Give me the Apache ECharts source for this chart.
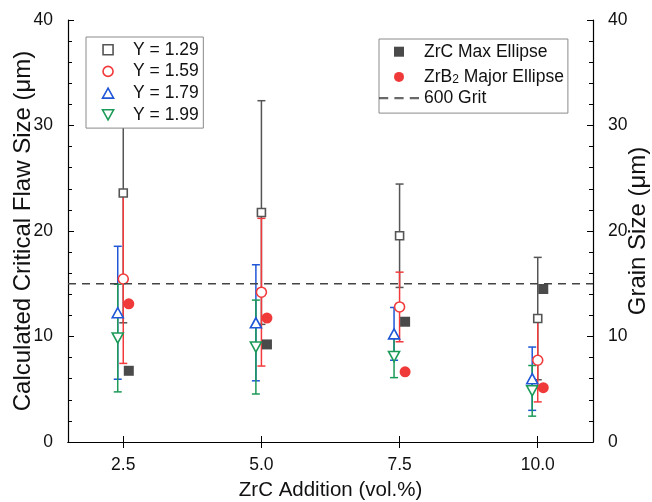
<!DOCTYPE html>
<html>
<head>
<meta charset="utf-8">
<script src="https://cdn.jsdelivr.net/npm/echarts@6/dist/echarts.min.js"></script>
<style>html,body{margin:0;padding:0;background:#fff;}#c{width:652px;height:502px;}</style>
</head>
<body>
<div id="c"></div>
<script>
// ---- data ----
var zrcAddition = [2.5, 5.0, 7.5, 10.0];
var xTickLabels = ['2.5', '5.0', '7.5', '10.0'];
var y129 = [23.6, 21.75, 19.55, 11.7];
var e129 = [12.3, 10.6, 4.9, 5.8];
var y159 = [15.45, 14.2, 12.8, 7.75];
var e159 = [8.0, 7.0, 3.3, 3.95];
var y179 = [12.25, 11.3, 10.25, 6.0];
var e179 = [6.3, 5.5, 2.5, 3.0];
var y199 = [9.85, 9.0, 8.1, 4.85];
var e199 = [5.1, 4.45, 2.0, 2.4];
var zrcMaxEllipse = [6.75, 9.25, 11.4, 14.5];
var zrb2MajorEllipse = [13.1, 11.75, 6.65, 5.15];
var grit600 = 15;
var yTicks = [0, 10, 20, 30, 40];

var FONT = '"Liberation Sans", Arial, sans-serif';
var GRAY = '#555555', RED = '#f23a3c', BLUE = '#1f57d6', GREEN = '#1c9a58';
var SHIFT_L = -0.1, SHIFT_R = 0.1;
var SQUARE = 'path://M0,0L10,0L10,10L0,10Z';
var TRI_UP = 'path://M5,0L10,9L0,9Z';
var TRI_DOWN = 'path://M0,0L10,0L5,9Z';
var DASH_ICON = 'path://M0,0h9v2h-9Z M15,0h9v2h-9Z M30,0h9v2h-9Z';

function pts(vals, shift) { return vals.map(function (v, i) { return [zrcAddition[i] + shift, v]; }); }
function bars(vals, errs, shift) { return vals.map(function (v, i) { return [zrcAddition[i] + shift, v - errs[i], v + errs[i]]; }); }

function errSeries(name, data, color) {
  return {
    name: name, type: 'custom', xAxisIndex: 0, yAxisIndex: 0, data: data, silent: true,
    encode: { x: 0, y: [1, 2] },
    renderItem: function (params, api) {
      var lo = api.coord([api.value(0), api.value(1)]);
      var hi = api.coord([api.value(0), api.value(2)]);
      var w = 4;
      var st = { stroke: color, lineWidth: 1.5 };
      return { type: 'group', children: [
        { type: 'line', shape: { x1: lo[0], y1: lo[1], x2: hi[0], y2: hi[1] }, style: st },
        { type: 'line', shape: { x1: lo[0] - w, y1: lo[1], x2: lo[0] + w, y2: lo[1] }, style: st },
        { type: 'line', shape: { x1: hi[0] - w, y1: hi[1], x2: hi[0] + w, y2: hi[1] }, style: st }
      ] };
    }
  };
}
function openScatter(name, data, symbol, size, color) {
  return { name: name, type: 'scatter', data: data, symbol: symbol, symbolSize: size,
    itemStyle: { color: '#ffffff', borderColor: color, borderWidth: 1.6, opacity: 1 } };
}
function openIcon(name, icon, color) {
  return { name: name, icon: icon, itemStyle: { color: '#ffffff', borderColor: color, borderWidth: 1.6 } };
}

var chart = echarts.init(document.getElementById('c'), null, { renderer: 'canvas' });
var axisLineStyle = { color: '#000', width: 1.2 };
var option = {
  backgroundColor: '#fff',
  animation: false,
  textStyle: { fontFamily: FONT },
  grid: { left: 68, right: 59, top: 20, bottom: 60, containLabel: false, outerBoundsMode: 'none' },
  xAxis: [{
    type: 'value', min: 1.5, max: 11, position: 'bottom',
    name: 'ZrC Addition (vol.%)', nameLocation: 'middle', nameGap: 38, nameMoveOverlap: false,
    nameTextStyle: { fontSize: 20.5, color: '#111', fontFamily: FONT },
    axisLine: { lineStyle: axisLineStyle },
    axisTick: { inside: true, length: 6, lineStyle: { color: '#000' }, customValues: zrcAddition },
    axisLabel: { fontSize: 17.5, color: '#111', margin: 14, fontFamily: FONT, customValues: zrcAddition,
      formatter: function (v) { var i = zrcAddition.indexOf(v); return i >= 0 ? xTickLabels[i] : ''; } },
    splitLine: { show: false }
  }, {
    type: 'value', min: 1.5, max: 11, position: 'top',
    axisLine: { lineStyle: axisLineStyle },
    axisTick: { inside: true, length: 6, lineStyle: { color: '#000' }, customValues: zrcAddition },
    axisLabel: { show: false },
    splitLine: { show: false }
  }],
  yAxis: [{
    type: 'value', min: yTicks[0], max: yTicks[yTicks.length - 1], interval: 10, position: 'left',
    name: 'Calculated Critical Flaw Size (μm)', nameLocation: 'middle', nameGap: 33, nameRotate: 90, nameMoveOverlap: false,
    nameTextStyle: { fontSize: 24, color: '#111', fontFamily: FONT },
    axisLine: { show: true, lineStyle: axisLineStyle },
    axisTick: { inside: true, length: 6, lineStyle: { color: '#000' } },
    minorTick: { show: true, splitNumber: 5, length: 4, lineStyle: { color: '#000' } },
    axisLabel: { fontSize: 17.5, color: '#111', margin: 15, fontFamily: FONT },
    splitLine: { show: false }
  }, {
    type: 'value', min: yTicks[0], max: yTicks[yTicks.length - 1], interval: 10, position: 'right',
    name: 'Grain Size (μm)', nameLocation: 'middle', nameGap: 33, nameRotate: 90, nameMoveOverlap: false,
    nameTextStyle: { fontSize: 24, color: '#111', fontFamily: FONT },
    axisLine: { show: true, lineStyle: axisLineStyle },
    axisTick: { inside: true, length: 6, lineStyle: { color: '#000' } },
    minorTick: { show: true, splitNumber: 5, length: 4, lineStyle: { color: '#000' } },
    axisLabel: { fontSize: 17.5, color: '#111', margin: 15, fontFamily: FONT },
    splitLine: { show: false }
  }],
  legend: [{
    data: [openIcon('Y = 1.29', SQUARE, GRAY), openIcon('Y = 1.59', 'circle', RED),
           openIcon('Y = 1.79', TRI_UP, BLUE), openIcon('Y = 1.99', TRI_DOWN, GREEN)],
    orient: 'vertical', left: 86, top: 37,
    itemWidth: 40, itemHeight: 10, itemGap: 3.7,
    padding: [3.7, 4.6, 4.3, 15.7],
    backgroundColor: '#fff', borderColor: '#8a8a8a', borderWidth: 1, borderRadius: 0,
    textStyle: { fontSize: 17.5, color: '#111', lineHeight: 18, fontFamily: FONT },
    selectedMode: false
  }, {
    data: [{ name: 'ZrC Max Ellipse', icon: SQUARE }, { name: 'ZrB2 Major Ellipse', icon: 'circle' },
           { name: '600 Grit', icon: DASH_ICON }],
    orient: 'vertical', left: 379, top: 39,
    itemWidth: 40, itemHeight: 10, itemGap: 3.2,
    padding: [3.7, 4, 6, 0],
    backgroundColor: '#fff', borderColor: '#8a8a8a', borderWidth: 1, borderRadius: 0,
    textStyle: { fontSize: 17.5, color: '#111', lineHeight: 18, fontFamily: FONT,
      rich: {
        n: { fontSize: 17.5, lineHeight: 18, color: '#111', fontFamily: FONT },
        s: { fontSize: 12, lineHeight: 14, padding: [10, 0, 0, 0], verticalAlign: 'bottom', color: '#111', fontFamily: FONT }
      } },
    formatter: function (name) {
      if (name === 'ZrB2 Major Ellipse') return '{n|ZrB}{s|2}{n| Major Ellipse}';
      return name;
    },
    selectedMode: false
  }],
  series: [
    { name: 'grit-line', type: 'line', data: [[1.5, grit600], [11, grit600]], symbol: 'none', silent: true,
      lineStyle: { color: '#444', width: 1.5, type: [8, 6] }, itemStyle: { color: '#444' } },
    { name: '600 Grit', type: 'scatter', data: [], symbol: DASH_ICON, itemStyle: { color: '#444' } },
    errSeries('e129', bars(y129, e129, 0), GRAY),
    openScatter('Y = 1.29', pts(y129, 0), SQUARE, 8, GRAY),
    errSeries('e159', bars(y159, e159, 0), RED),
    openScatter('Y = 1.59', pts(y159, 0), 'circle', 10, RED),
    errSeries('e179', bars(y179, e179, SHIFT_L), BLUE),
    openScatter('Y = 1.79', pts(y179, SHIFT_L), TRI_UP, [11, 10], BLUE),
    errSeries('e199', bars(y199, e199, SHIFT_L), GREEN),
    openScatter('Y = 1.99', pts(y199, SHIFT_L), TRI_DOWN, [11, 10], GREEN),
    { name: 'ZrC Max Ellipse', type: 'scatter', data: pts(zrcMaxEllipse, SHIFT_R), symbol: SQUARE, symbolSize: 10,
      itemStyle: { color: '#4a4a4a', opacity: 1 } },
    { name: 'ZrB2 Major Ellipse', type: 'scatter', data: pts(zrb2MajorEllipse, SHIFT_R), symbol: 'circle', symbolSize: 11,
      itemStyle: { color: '#f03a3a', opacity: 1 } }
  ]
};
chart.setOption(option);
</script>
</body>
</html>
